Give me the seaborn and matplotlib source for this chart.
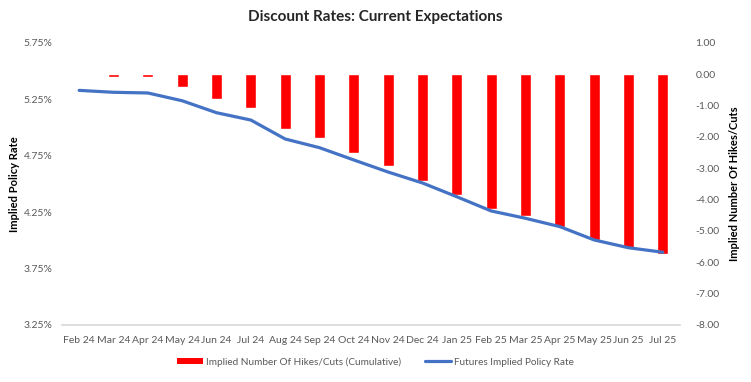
import numpy as np
import pandas as pd
import matplotlib
matplotlib.use("Agg")
import matplotlib.pyplot as plt
import seaborn as sns
from matplotlib.patches import Patch
from matplotlib.lines import Line2D

months = ["Feb 24", "Mar 24", "Apr 24", "May 24", "Jun 24", "Jul 24", "Aug 24",
          "Sep 24", "Oct 24", "Nov 24", "Dec 24", "Jan 25", "Feb 25", "Mar 25",
          "Apr 25", "May 25", "Jun 25", "Jul 25"]
hikes_cuts = [0.0, -0.07, -0.07, -0.39, -0.80, -1.06, -1.73, -2.02, -2.50, -2.94,
              -3.39, -3.84, -4.29, -4.51, -4.86, -5.30, -5.55, -5.75]
policy_rate = [5.330, 5.313, 5.307, 5.238, 5.132, 5.067, 4.899, 4.822, 4.713, 4.606,
               4.509, 4.387, 4.261, 4.196, 4.122, 4.004, 3.935, 3.895]
left_ticks = [3.25, 3.75, 4.25, 4.75, 5.25, 5.75]
right_ticks = [1, 0, -1, -2, -3, -4, -5, -6, -7, -8]

df = pd.DataFrame({"month": months, "pos": np.arange(len(months)),
                   "hikes": hikes_cuts, "rate": policy_rate})

sns.set_theme(style="white")
plt.rcParams['font.family'] = ['Lato', 'DejaVu Sans']

W, H = 751, 382
L, R, T, B = 62, 680, 43, 325
fig = plt.figure(figsize=(W/100, H/100), dpi=100)
ax = fig.add_axes([L/W, 1 - B/H, (R-L)/W, (B-T)/H])
ax2 = ax.twinx()

sns.barplot(data=df, x="month", y="hikes", ax=ax2, color="#FF0000",
            saturation=1, width=0.33, order=months)
sns.lineplot(data=df, x="pos", y="rate", ax=ax, color="#4472C4", linewidth=2.3)

ax.set_zorder(ax2.get_zorder() + 1)
ax.patch.set_visible(False)

ax.set_xlim(-0.5, len(months) - 0.5)
ax2.set_xlim(-0.5, len(months) - 0.5)
ax.set_ylim(3.25, 5.75)
ax2.set_ylim(-8, 1)
ax.set_yticks(left_ticks)
ax.set_yticklabels([f"{t:.2f}%" for t in left_ticks])
ax2.set_yticks(right_ticks)
ax2.set_yticklabels([f"{t:.2f}" for t in right_ticks])
ax.set_xticks(np.arange(len(months)))
ax.set_xticklabels(months)
ax2.set_xlabel("")
ax.set_xlabel("")

for a in (ax, ax2):
    for s in a.spines.values():
        s.set_visible(False)
    a.tick_params(axis="both", length=0, labelsize=7.5, labelcolor="#595959")
ax.spines["bottom"].set_visible(True)
ax.spines["bottom"].set_color("#D9D9D9")
ax.tick_params(axis="x", pad=8)
ax.tick_params(axis="y", pad=7)
ax2.tick_params(axis="y", pad=11)

ax.set_ylabel("Implied Policy Rate", fontsize=8, fontweight="bold", color="black")
ax.yaxis.set_label_coords((20 - L) / (R - L), 0.5)
ax2.set_ylabel("Implied Number Of Hikes/Cuts", fontsize=8, fontweight="bold",
               color="black")
ax2.yaxis.set_label_coords((729 - L) / (R - L), 0.5)

fig.suptitle("Discount Rates: Current Expectations", fontsize=11, fontweight="bold",
             y=0.975, x=0.5)

handles = [Patch(facecolor="#FF0000", edgecolor="none"),
           Line2D([0], [0], color="#4472C4", linewidth=2.3)]
fig.legend(handles, ["Implied Number Of Hikes/Cuts (Cumulative)", "Futures Implied Policy Rate"],
           loc="center", bbox_to_anchor=(0.5, 1 - 362/382), ncol=2, frameon=False,
           fontsize=7.2, labelcolor="#595959", handlelength=2.6, handleheight=0.6,
           columnspacing=2.4, handletextpad=0.3)

fig.savefig("out.png", dpi=100)
